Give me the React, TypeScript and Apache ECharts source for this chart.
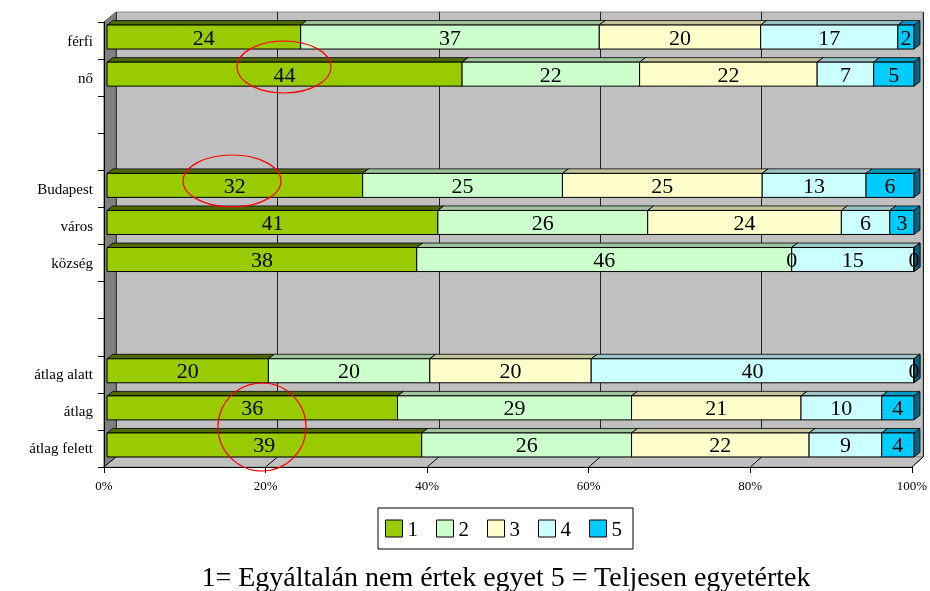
import React, { useEffect, useRef } from "react";
import * as echarts from "echarts";

const categories = ["férfi", "nő", "", "", "Budapest", "város", "község", "", "", "átlag alatt", "átlag", "átlag felett"];
const seriesNames = ["1", "2", "3", "4", "5"];
const s1 = [24, 44, null, null, 32, 41, 38, null, null, 20, 36, 39];
const s2 = [37, 22, null, null, 25, 26, 46, null, null, 20, 29, 26];
const s3 = [20, 22, null, null, 25, 24, 0, null, null, 20, 21, 22];
const s4 = [17, 7, null, null, 13, 6, 15, null, null, 40, 10, 9];
const s5 = [2, 5, null, null, 6, 3, 0, null, null, 0, 4, 4];
const xTicks = [0, 20, 40, 60, 80, 100];
const subtitle = "1= Egyáltalán nem értek egyet 5 = Teljesen egyetértek";

const frontColors = ["#99cc00", "#ccffcc", "#ffffcc", "#ccffff", "#00ccff"];
const topColors = ["#4f6a00", "#9fc29f", "#c4c49c", "#9cc4c4", "#0099c4"];
const sideColors = ["#5f7f00", "#86a886", "#a8a884", "#86a8a8", "#00657f"];

const FONT = '"Liberation Serif", "Times New Roman", serif';

// layout
const FL = 104, FR = 912, FT = 22, FB = 467; // front plane
const WDX = 12, WDY = 10; // wall depth
const BL = FL + WDX, BR = 923, BT = FT - WDY, BB = FB - WDY;
const BAR_L = 107, BAR_R = 914;
const BAR_H = 24, BAR_OFF = -3.5, BDX = 6, BDY = 4.5;

function buildData() {
  const all = [s1, s2, s3, s4, s5];
  const perSeries: any[][] = [[], [], [], [], []];
  categories.forEach((_, row) => {
    if (s1[row] === null) return;
    const vals = all.map((s) => s[row] as number);
    const total = vals.reduce((a, b) => a + b, 0);
    let cum = 0;
    vals.forEach((v, i) => {
      const start = (cum / total) * 100;
      cum += v;
      const end = (cum / total) * 100;
      perSeries[i].push([row, start, end, v]);
    });
  });
  return perSeries;
}

export default function App() {
  const ref = useRef<HTMLDivElement>(null);
  useEffect(() => {
    if (!ref.current) return;
    const chart = echarts.init(ref.current, null, { renderer: "svg" });
    const perSeries = buildData();

    const barSeries = perSeries.map((data, si) => ({
      type: "custom",
      name: seriesNames[si],
      xAxisIndex: 2,
      yAxisIndex: 2,
      itemStyle: { color: frontColors[si] },
      z: 3,
      data,
      renderItem: (params: any, api: any) => {
        const row = api.value(0);
        const p0 = api.coord([api.value(1), row]);
        const p1 = api.coord([api.value(2), row]);
        const x0 = p0[0], x1 = p1[0];
        const yc = p0[1] + BAR_OFF;
        const top = yc - BAR_H / 2, bot = yc + BAR_H / 2;
        return {
          type: "group",
          children: [
            {
              type: "polygon",
              shape: { points: [[x0, top], [x0 + BDX, top - BDY], [x1 + BDX, top - BDY], [x1, top]] },
              style: { fill: topColors[si], stroke: "#000", lineWidth: 0.8 },
            },
            {
              type: "polygon",
              shape: { points: [[x1, top], [x1 + BDX, top - BDY], [x1 + BDX, bot - BDY], [x1, bot]] },
              style: { fill: sideColors[si], stroke: "#000", lineWidth: 0.8 },
            },
            {
              type: "rect",
              shape: { x: x0, y: top, width: x1 - x0, height: BAR_H },
              style: { fill: frontColors[si], stroke: "#000", lineWidth: 1 },
            },
          ],
        };
      },
    }));

    const labelData = perSeries.flat();
    const labelSeries = {
      type: "custom",
      name: "labels",
      xAxisIndex: 2,
      yAxisIndex: 2,
      z: 10,
      silent: true,
      data: labelData,
      renderItem: (params: any, api: any) => {
        const row = api.value(0);
        const p0 = api.coord([api.value(1), row]);
        const p1 = api.coord([api.value(2), row]);
        return {
          type: "text",
          x: (p0[0] + p1[0]) / 2,
          y: p0[1] + BAR_OFF,
          style: {
            text: String(api.value(3)),
            fill: "#000",
            font: `22px ${FONT}`,
            align: "center",
            verticalAlign: "middle",
          },
        };
      },
    };

    const floorLines = xTicks.map((t) => {
      const xf = FL + ((FR - FL) * t) / 100;
      const xb = BL + ((BR - BL) * t) / 100;
      return {
        type: "line",
        z: 2,
        shape: { x1: xf, y1: FB, x2: xb, y2: BB },
        style: { stroke: "#000", lineWidth: 1 },
      };
    });

    chart.setOption({
      animation: false,
      grid: [
        { left: FL, top: FT, width: FR - FL, height: FB - FT, containLabel: false },
        {
          left: BL, top: BT, width: BR - BL, height: BB - BT,
          show: true, backgroundColor: "#c0c0c0", borderColor: "#8c8c8c", borderWidth: 1,
        },
        { left: BAR_L, top: FT, width: BAR_R - BAR_L, height: FB - FT },
      ],
      xAxis: [
        {
          gridIndex: 0, type: "value", min: 0, max: 100, interval: 20, z: 5,
          axisLine: { show: true, lineStyle: { color: "#000", width: 1 } },
          axisTick: { show: true, length: 6, lineStyle: { color: "#000" } },
          splitLine: { show: false },
          axisLabel: { formatter: "{value}%", fontFamily: FONT, fontSize: 13, color: "#000", margin: 12 },
        },
        {
          gridIndex: 1, type: "value", min: 0, max: 100, interval: 20,
          axisLine: { show: false }, axisTick: { show: false }, axisLabel: { show: false },
          splitLine: { show: true, lineStyle: { color: "#222", width: 1 } },
        },
        { gridIndex: 2, type: "value", min: 0, max: 100, show: false },
      ],
      yAxis: [
        {
          gridIndex: 0, type: "category", data: categories, inverse: true, z: 5,
          axisLine: { show: true, lineStyle: { color: "#000", width: 1 } },
          axisTick: { show: true, length: 6, lineStyle: { color: "#000" } },
          splitLine: { show: false },
          axisLabel: { fontFamily: FONT, fontSize: 15, color: "#000", margin: 11, interval: 0 },
        },
        { gridIndex: 1, type: "category", data: categories, inverse: true, show: false },
        { gridIndex: 2, type: "category", data: categories, inverse: true, show: false },
      ],
      legend: {
        data: seriesNames,
        left: 378,
        top: 508,
        orient: "horizontal",
        icon: "rect",
        itemWidth: 17,
        itemHeight: 17,
        itemGap: 18,
        padding: [10, 11, 10, 7],
        borderColor: "#000",
        borderWidth: 1,
        backgroundColor: "#fff",
        itemStyle: { borderColor: "#000", borderWidth: 1 },
        textStyle: { fontFamily: FONT, fontSize: 21, color: "#000" },
      },
      graphic: [
        {
          type: "polygon", z: 1,
          shape: { points: [[FL, FT], [BL, BT], [BL, BB], [FL, FB]] },
          style: { fill: "#808080", stroke: "#555", lineWidth: 1 },
        },
        {
          type: "polygon", z: 1,
          shape: { points: [[FL, FB], [BL, BB], [BR, BB], [FR, FB]] },
          style: { fill: "#c0c0c0", stroke: "#8c8c8c", lineWidth: 1 },
        },
        ...floorLines,
        {
          type: "ellipse", z: 100,
          shape: { cx: 284, cy: 67, rx: 47, ry: 26 },
          style: { fill: "none", stroke: "#ff0000", lineWidth: 1.2 },
        },
        {
          type: "ellipse", z: 100,
          shape: { cx: 232, cy: 181, rx: 49, ry: 26 },
          style: { fill: "none", stroke: "#ff0000", lineWidth: 1.2 },
        },
        {
          type: "ellipse", z: 100,
          shape: { cx: 262, cy: 427, rx: 44, ry: 44 },
          style: { fill: "none", stroke: "#ff0000", lineWidth: 1.2 },
        },
        {
          type: "text", z: 100,
          x: 506, y: 576,
          style: {
            text: subtitle, font: `28px ${FONT}`, fill: "#000",
            align: "center", verticalAlign: "middle",
          },
        },
      ],
      series: [...barSeries, labelSeries],
    });
    return () => chart.dispose();
  }, []);
  return <div ref={ref} style={{ position: "fixed", left: 0, top: 0, width: 930, height: 591 }} />;
}
